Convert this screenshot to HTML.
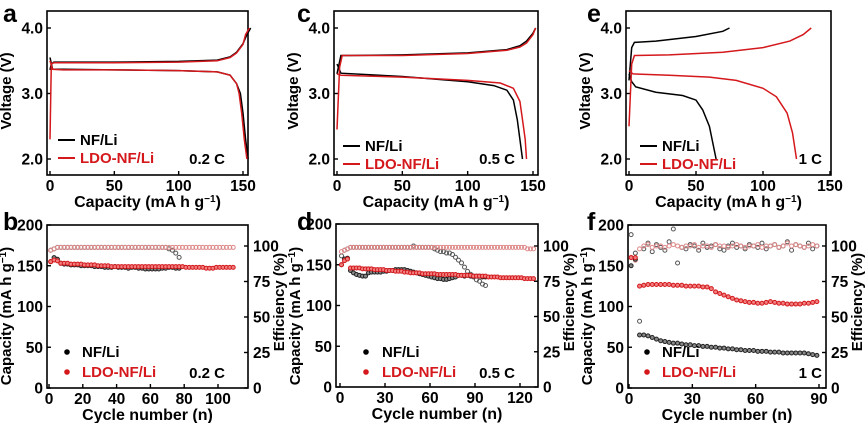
<!DOCTYPE html>
<html><head><meta charset="utf-8"><style>
html,body{margin:0;padding:0;background:#fff}
svg{display:block;font-family:"Liberation Sans",Arial,sans-serif;font-weight:bold}
</style></head><body>
<svg id="fig" width="866" height="423" viewBox="0 0 866 423"></svg>
<script>
// ---------- Voltage profile data (capacity mAh/g, voltage V) ----------
const aNFChgCap=[0,1,3,10,50,100,130,140,145,150,153,156];
const aNFChgV=[3.36,3.45,3.48,3.48,3.48,3.49,3.51,3.56,3.63,3.76,3.9,4.0];
const aNFDisCap=[0,2,10,50,100,130,140,145,148,150,152,154];
const aNFDisV=[3.55,3.37,3.37,3.36,3.35,3.33,3.28,3.15,3.0,2.7,2.3,2.0];
const aLDOChgCap=[0,1,3,10,50,100,130,140,145,150,152,155];
const aLDOChgV=[2.3,3.45,3.47,3.47,3.47,3.48,3.5,3.55,3.62,3.75,3.9,4.0];
const aLDODisCap=[0,2,10,50,100,130,140,145,147,149,151,153];
const aLDODisV=[3.5,3.37,3.36,3.36,3.35,3.33,3.28,3.15,3.0,2.7,2.3,2.0];

const cNFChgCap=[0,3,10,50,100,130,140,145,150,152];
const cNFChgV=[3.3,3.58,3.58,3.59,3.62,3.67,3.73,3.8,3.92,4.0];
const cNFDisCap=[0,3,50,100,120,130,135,138,140,142];
const cNFDisV=[3.45,3.31,3.26,3.18,3.12,3.05,2.9,2.6,2.3,2.0];
const cLDOChgCap=[0,2,4,10,50,100,130,140,145,150,152];
const cLDOChgV=[2.45,3.4,3.58,3.58,3.58,3.61,3.66,3.71,3.77,3.9,4.0];
const cLDODisCap=[0,3,50,100,125,135,140,142,144,145];
const cLDODisV=[3.3,3.28,3.25,3.2,3.16,3.08,2.88,2.6,2.3,2.0];

const eNFChgCap=[0,2,4,20,50,70,75];
const eNFChgV=[3.2,3.7,3.78,3.8,3.87,3.95,4.0];
const eNFDisCap=[0,2,5,20,40,50,55,60,63,65];
const eNFDisV=[3.3,3.18,3.1,3.02,2.97,2.9,2.75,2.5,2.2,2.0];
const eLDOChgCap=[0,2,4,30,70,100,120,130,136];
const eLDOChgV=[2.5,3.45,3.58,3.59,3.63,3.7,3.8,3.9,4.0];
const eLDODisCap=[0,3,30,60,80,100,110,118,122,125];
const eLDODisV=[3.35,3.3,3.28,3.25,3.2,3.08,2.95,2.7,2.4,2.0];

// ---------- Cycling data (every 2nd cycle starting at cycle 1) ----------
const bNFCap=[155,160,158,153,152,152,151,151,151,150,150,150,150,149,149,149,148,148,148,149,148,148,148,147,148,148,147,147,146,146,146,146,146,147,147,148,148,147,147];
const bNFEff=[97,98,99,99,99,99,99,99,99,99,99,99,99,99,99,99,99,99,99,99,99,99,99,99,99,99,99,99,99,99,99,99,99,99,99,98,97,95,92];
const bLDOCap=[155,157,156,153,153,153,152,152,152,152,151,151,151,151,150,150,150,150,149,149,149,149,149,149,149,149,149,149,149,149,149,149,149,149,149,149,149,149,149,149,148,148,148,148,148,148,147,147,147,148,148,148,148,148,148];
const bLDOEff=[97,98,99,99,99,99,99,99,99,99,99,99,99,99,99,99,99,99,99,99,99,99,99,99,99,99,99,99,99,99,99,99,99,99,99,99,99,99,99,99,99,99,99,99,99,99,99,99,99,99,99,99,99,99,99];

const dNFCap=[150,157,158,143,140,138,137,136,136,140,141,141,141,141,142,142,143,143,144,144,144,144,143,142,141,140,139,138,137,136,135,134,133,133,132,132,133,134,135,137,137,136,137,136,136,136,136,135,135];
const dNFEff=[93,97,98,99,99,99,99,99,99,99,99,99,99,99,99,99,99,99,99,99,99,99,99,99,100,99,99,99,99,99,99,98,97,96,96,95,95,94,92,90,88,85,82,80,78,76,75,73,72];
const dLDOCap=[150,155,157,146,146,146,146,145,145,145,145,144,144,144,144,143,143,143,142,142,142,141,141,140,140,140,140,139,139,139,139,139,138,138,138,138,138,138,138,137,137,137,137,137,136,136,136,136,136,135,135,135,135,134,134,134,134,134,134,134,134,133,133,133,133];
const dLDOEff=[96,97,98,99,99,99,99,99,99,99,99,99,99,99,99,99,99,99,99,99,99,99,99,99,99,99,99,99,99,99,99,99,99,99,99,99,99,99,99,99,99,99,99,99,99,99,99,99,99,99,99,99,99,99,99,99,99,99,99,99,99,99,98,98,98];

const fNFCap=[150,158,65,65,64,62,60,58,57,56,55,55,54,53,53,52,52,51,51,50,50,49,49,48,48,47,47,46,46,46,45,45,45,44,44,44,43,43,43,43,43,43,42,41,40];
const fNFEff=[108,95,47,98,102,96,101,99,97,103,112,88,99,98,101,100,97,102,99,100,101,98,97,100,102,99,100,98,101,100,99,102,98,100,101,99,100,103,97,101,100,99,102,98,100];
const fLDOCap=[160,160,125,126,127,127,127,127,127,127,126,126,126,125,125,125,125,124,124,122,118,116,114,112,110,108,107,106,105,105,104,104,105,106,105,104,104,103,103,103,103,104,104,105,106];
const fLDOEff=[92,90,98,100,101,99,100,100,99,100,101,100,99,100,100,101,99,100,100,99,101,100,100,99,100,101,100,99,100,100,101,99,100,100,101,99,100,102,100,101,100,99,100,101,100];

const vTicks=[2.0,3.0,4.0];
const capTicks=[0,50,100,150];
const cycCapTicks=[0,50,100,150,200];
const effTicks=[0,25,50,75,100];
const bXTicks=[0,20,40,60,80,100];
const dXTicks=[0,30,60,90,120];
const fXTicks=[0,30,60,90];

const NS="http://www.w3.org/2000/svg";
const svg=document.getElementById('fig');
const RED="#d4181c";
function el(tag,attrs,parent){const e=document.createElementNS(NS,tag);for(const k in attrs)e.setAttribute(k,attrs[k]);(parent||svg).appendChild(e);return e;}
function txt(s,x,y,size,anchor,parent,fill){const t=el('text',{x:x,y:y,'font-size':size,'text-anchor':anchor||'middle',fill:fill||'#000'},parent);t.textContent=s;return t;}

function frame(g,b){
  const r=el('rect',{x:b.l,y:b.t,width:b.r-b.l,height:b.b-b.t,fill:'none',stroke:'#000','stroke-width':1.6},g);
  
  
}
function xAxis(g,b,ticks,sx,title,fmt){
  ticks.forEach(v=>{const x=sx(v);
    el('line',{x1:x,x2:x,y1:b.b,y2:b.b-4,stroke:'#000','stroke-width':1.4},g);
    const t=txt(fmt?fmt(v):String(v),x,b.b+16,15.5,'middle',g);
    
    });
  const t=txt('',(b.l+b.r)/2,b.b+32,16,'middle',g);
  
  
  t.innerHTML=title;
}
function yAxis(g,b,ticks,sy,title,fmt,right,len,cyc){
  ticks.forEach(v=>{const y=sy(v);
    const x0=right?b.r:b.l;
    el('line',{x1:x0,x2:right?x0-4:x0+4,y1:y,y2:y,stroke:'#000','stroke-width':1.4},g);
    const t=txt(fmt?fmt(v):String(v),right?b.r+5:b.l-4,y+5.5,15.5,right?'start':'end',g);
    
    });
  const cx=right?b.r+36:b.l-36, cy=cyc;
  const t=txt('',cx,cy,15,'middle',g);
  t.setAttribute('transform','rotate(-90 '+cx+' '+cy+')');
  
  
  t.innerHTML=title;
  if(len){t.setAttribute('textLength',len);t.setAttribute('lengthAdjust','spacingAndGlyphs');}
}
function curve(g,xs,ys,sx,sy,color,name){
  const d=xs.map((v,i)=>(i?'L':'M')+sx(v).toFixed(1)+' '+sy(ys[i]).toFixed(1)).join(' ');
  const p=el('path',{d:d,fill:'none',stroke:color,'stroke-width':1.5},g);
  
  
}
function points(g,vals,sx,sy,color,name,r,fillc){
  vals.forEach((v,i)=>{const c=el('circle',{cx:sx(1+2*i),cy:sy(v),r:r,fill:fillc,stroke:color,'stroke-width':1},g);
    
    });
}
function letter(s,x,y){const t=txt(s,x,y,25,'start');}
function lineLegend(g,x,y,label,color,name){
  const l=el('line',{x1:x,x2:x+17,y1:y,y2:y,stroke:color,'stroke-width':2},g);
  
  const t=txt(label,x+22,y+5,15,'start',g,color==='#000'?'#000':RED);
  
}
function dotLegend(g,x,y,label,color,name,tx){
  const c=el('circle',{cx:x,cy:y,r:2.3,fill:color,stroke:color,'stroke-width':1},g);
  
  const t=txt(label,tx,y+5,15,'start',g,color==='#000'?'#000':RED);
  
}
function rateLabel(g,s,x,y){const t=txt(s,x,y,15,'end',g);}
const f1=v=>v.toFixed(1);
const CAPT='Capacity (mA h g<tspan dy="-5" font-size="10">−1</tspan><tspan dy="5">)</tspan>';
const CAPY='Capacity (mA h g<tspan dy="-5" font-size="10">−1</tspan><tspan dy="5">)</tspan>';

function voltagePanel(name,b,x0,x150,curves,legX,legY,rate,rateX){
  const g=el('g',{});
  const sx=v=>x0+(x150-x0)*v/150, sy=v=>159-(v-2)*65.5;
  frame(g,b);
  xAxis(g,b,capTicks,sx,CAPT);
  yAxis(g,b,vTicks,sy,'Voltage (V)',f1,false,0,91);
  curves.forEach(c=>curve(g,c[0],c[1],sx,sy,c[2],c[3]));
  lineLegend(g,legX,legY,'NF/Li','#000','legend-nf-li');
  lineLegend(g,legX,legY+18,'LDO-NF/Li',RED,'legend-ldo-nf-li');
  rateLabel(g,rate,rateX,164);
}
function cyclePanel(name,b,x0,xmax,xEnd,ticks,nf,nfe,ldo,ldoe,legX,legTX,rate,rateX){
  const g=el('g',{});
  const sx=v=>x0+(xEnd-x0)*v/xmax, sy=v=>b.b-(b.b-b.t)*v/200, se=v=>b.b-(b.b-246)*v/100;
  frame(g,b);
  xAxis(g,b,ticks,sx,'Cycle number (n)');
  yAxis(g,b,cycCapTicks,sy,CAPY,null,false,0,316);
  yAxis(g,b,effTicks,se,'Efficiency (%)',null,true,0,302);
  points(g,nfe,sx,se,'#555','nf-efficiency-point',2,'none');
  points(g,ldoe,sx,se,'#d88','ldo-efficiency-point',2,'none');
  points(g,nf,sx,sy,'#222','nf-capacity-point',2,'#888');
  points(g,ldo,sx,sy,RED,'ldo-capacity-point',2,'#f08080');
  dotLegend(g,legX,352,'NF/Li','#000','legend-nf-li',legTX);
  dotLegend(g,legX,372,'LDO-NF/Li',RED,'legend-ldo-nf-li',legTX);
  rateLabel(g,rate,rateX,378);
}

voltagePanel('panel-a-voltage',{l:47,r:248,t:11,b:175},50,243,
 [[aNFChgCap,aNFChgV,'#000','nf-charge-curve'],[aNFDisCap,aNFDisV,'#000','nf-discharge-curve'],
  [aLDOChgCap,aLDOChgV,RED,'ldo-charge-curve'],[aLDODisCap,aLDODisV,RED,'ldo-discharge-curve']],
 58,140,'0.2 C',225);
voltagePanel('panel-c-voltage',{l:334,r:538,t:11,b:175},337,533,
 [[cNFChgCap,cNFChgV,'#000','nf-charge-curve'],[cNFDisCap,cNFDisV,'#000','nf-discharge-curve'],
  [cLDOChgCap,cLDOChgV,RED,'ldo-charge-curve'],[cLDODisCap,cLDODisV,RED,'ldo-discharge-curve']],
 343,146,'0.5 C',515);
voltagePanel('panel-e-voltage',{l:626,r:831,t:11,b:175},629,830,
 [[eNFChgCap,eNFChgV,'#000','nf-charge-curve'],[eNFDisCap,eNFDisV,'#000','nf-discharge-curve'],
  [eLDOChgCap,eLDOChgV,RED,'ldo-charge-curve'],[eLDODisCap,eLDODisV,RED,'ldo-discharge-curve']],
 640,146,'1 C',822);

cyclePanel('panel-b-cycling',{l:47,r:248,t:225,b:388},49,100,218,bXTicks,bNFCap,bNFEff,bLDOCap,bLDOEff,67,82,'0.2 C',225);
cyclePanel('panel-d-cycling',{l:336,r:538,t:224,b:387},340,120,520,dXTicks,dNFCap,dNFEff,dLDOCap,dLDOEff,366,382,'0.5 C',515);
cyclePanel('panel-f-cycling',{l:628,r:826,t:225,b:388},629,90,819,fXTicks,fNFCap,fNFEff,fLDOCap,fLDOEff,647,662,'1 C',822);

letter('a',3,22);letter('c',297,22);letter('e',587,22);
letter('b',3,230);letter('d',297,230);letter('f',587,230);
</script>
</body></html>
